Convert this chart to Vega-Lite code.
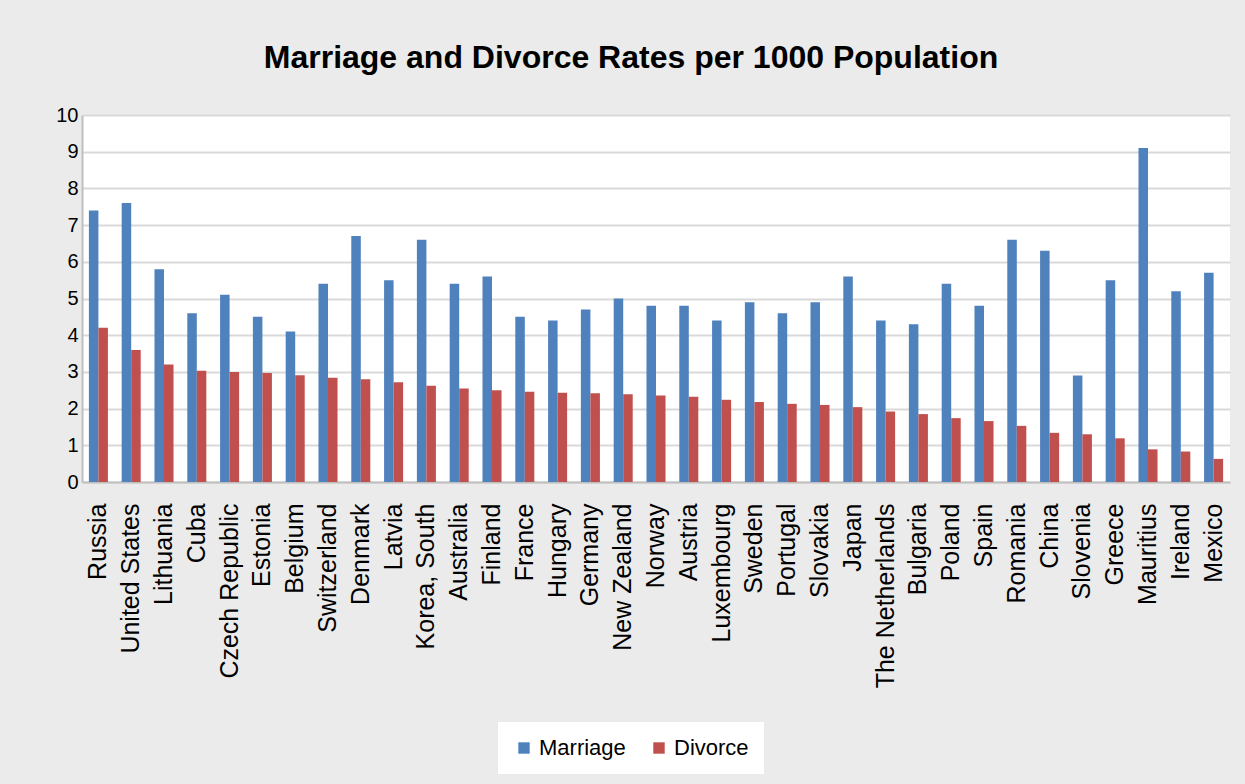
{
  "$schema": "https://vega.github.io/schema/vega-lite/v6.json",
  "width": 1148,
  "height": 367,
  "autosize": {"type": "none"},
  "padding": {"left": 82, "top": 115, "right": 15, "bottom": 302},
  "background": "#ebebeb",
  "title": {
    "text": "Marriage and Divorce Rates per 1000 Population",
    "font": "Liberation Sans",
    "fontSize": 32,
    "fontWeight": "bold",
    "color": "#000000",
    "anchor": "middle",
    "dx": -25,
    "offset": 30
  },
  "config": {
    "view": {"fill": "white", "stroke": null},
    "font": "Liberation Sans"
  },
  "data": {
    "values": [
      {"country": "Russia", "series": "Marriage", "rate": 7.4},
      {"country": "Russia", "series": "Divorce", "rate": 4.2},
      {"country": "United States", "series": "Marriage", "rate": 7.6},
      {"country": "United States", "series": "Divorce", "rate": 3.6},
      {"country": "Lithuania", "series": "Marriage", "rate": 5.8},
      {"country": "Lithuania", "series": "Divorce", "rate": 3.2},
      {"country": "Cuba", "series": "Marriage", "rate": 4.6},
      {"country": "Cuba", "series": "Divorce", "rate": 3.03},
      {"country": "Czech Republic", "series": "Marriage", "rate": 5.1},
      {"country": "Czech Republic", "series": "Divorce", "rate": 3.0},
      {"country": "Estonia", "series": "Marriage", "rate": 4.5},
      {"country": "Estonia", "series": "Divorce", "rate": 2.97},
      {"country": "Belgium", "series": "Marriage", "rate": 4.1},
      {"country": "Belgium", "series": "Divorce", "rate": 2.91},
      {"country": "Switzerland", "series": "Marriage", "rate": 5.4},
      {"country": "Switzerland", "series": "Divorce", "rate": 2.84},
      {"country": "Denmark", "series": "Marriage", "rate": 6.7},
      {"country": "Denmark", "series": "Divorce", "rate": 2.8},
      {"country": "Latvia", "series": "Marriage", "rate": 5.5},
      {"country": "Latvia", "series": "Divorce", "rate": 2.72},
      {"country": "Korea, South", "series": "Marriage", "rate": 6.6},
      {"country": "Korea, South", "series": "Divorce", "rate": 2.62},
      {"country": "Australia", "series": "Marriage", "rate": 5.4},
      {"country": "Australia", "series": "Divorce", "rate": 2.55},
      {"country": "Finland", "series": "Marriage", "rate": 5.6},
      {"country": "Finland", "series": "Divorce", "rate": 2.5},
      {"country": "France", "series": "Marriage", "rate": 4.5},
      {"country": "France", "series": "Divorce", "rate": 2.46},
      {"country": "Hungary", "series": "Marriage", "rate": 4.4},
      {"country": "Hungary", "series": "Divorce", "rate": 2.43},
      {"country": "Germany", "series": "Marriage", "rate": 4.7},
      {"country": "Germany", "series": "Divorce", "rate": 2.42},
      {"country": "New Zealand", "series": "Marriage", "rate": 5.0},
      {"country": "New Zealand", "series": "Divorce", "rate": 2.39},
      {"country": "Norway", "series": "Marriage", "rate": 4.8},
      {"country": "Norway", "series": "Divorce", "rate": 2.36},
      {"country": "Austria", "series": "Marriage", "rate": 4.8},
      {"country": "Austria", "series": "Divorce", "rate": 2.32},
      {"country": "Luxembourg", "series": "Marriage", "rate": 4.4},
      {"country": "Luxembourg", "series": "Divorce", "rate": 2.24},
      {"country": "Sweden", "series": "Marriage", "rate": 4.9},
      {"country": "Sweden", "series": "Divorce", "rate": 2.18},
      {"country": "Portugal", "series": "Marriage", "rate": 4.6},
      {"country": "Portugal", "series": "Divorce", "rate": 2.13},
      {"country": "Slovakia", "series": "Marriage", "rate": 4.9},
      {"country": "Slovakia", "series": "Divorce", "rate": 2.1},
      {"country": "Japan", "series": "Marriage", "rate": 5.6},
      {"country": "Japan", "series": "Divorce", "rate": 2.04},
      {"country": "The Netherlands", "series": "Marriage", "rate": 4.4},
      {"country": "The Netherlands", "series": "Divorce", "rate": 1.92},
      {"country": "Bulgaria", "series": "Marriage", "rate": 4.3},
      {"country": "Bulgaria", "series": "Divorce", "rate": 1.85},
      {"country": "Poland", "series": "Marriage", "rate": 5.4},
      {"country": "Poland", "series": "Divorce", "rate": 1.74},
      {"country": "Spain", "series": "Marriage", "rate": 4.8},
      {"country": "Spain", "series": "Divorce", "rate": 1.66},
      {"country": "Romania", "series": "Marriage", "rate": 6.6},
      {"country": "Romania", "series": "Divorce", "rate": 1.53},
      {"country": "China", "series": "Marriage", "rate": 6.3},
      {"country": "China", "series": "Divorce", "rate": 1.34},
      {"country": "Slovenia", "series": "Marriage", "rate": 2.9},
      {"country": "Slovenia", "series": "Divorce", "rate": 1.3},
      {"country": "Greece", "series": "Marriage", "rate": 5.5},
      {"country": "Greece", "series": "Divorce", "rate": 1.19},
      {"country": "Mauritius", "series": "Marriage", "rate": 9.1},
      {"country": "Mauritius", "series": "Divorce", "rate": 0.89},
      {"country": "Ireland", "series": "Marriage", "rate": 5.2},
      {"country": "Ireland", "series": "Divorce", "rate": 0.83},
      {"country": "Mexico", "series": "Marriage", "rate": 5.7},
      {"country": "Mexico", "series": "Divorce", "rate": 0.63}
    ]
  },
  "mark": {"type": "bar"},
  "encoding": {
    "x": {
      "field": "country",
      "type": "nominal",
      "sort": null,
      "scale": {"paddingInner": 0.42, "paddingOuter": 0.21},
      "axis": {
        "title": null,
        "labelAngle": -90,
        "labelAlign": "right",
        "labelBaseline": "middle",
        "labelFontSize": 25,
        "labelLimit": 0,
        "labelColor": "#000000",
        "labelPadding": 21,
        "ticks": false,
        "domainColor": "#bfbfbf",
        "domainWidth": 2
      }
    },
    "xOffset": {
      "field": "series",
      "type": "nominal",
      "sort": ["Marriage", "Divorce"],
      "scale": {"paddingInner": 0}
    },
    "y": {
      "field": "rate",
      "type": "quantitative",
      "scale": {"domain": [0, 10], "nice": false},
      "axis": {
        "title": null,
        "values": [0, 1, 2, 3, 4, 5, 6, 7, 8, 9, 10],
        "labelFontSize": 20,
        "labelColor": "#000000",
        "labelPadding": 4,
        "ticks": false,
        "domainColor": "#bfbfbf",
        "domainWidth": 2,
        "gridColor": "#d9d9d9",
        "gridWidth": 2
      }
    },
    "color": {
      "field": "series",
      "type": "nominal",
      "sort": ["Marriage", "Divorce"],
      "scale": {"domain": ["Marriage", "Divorce"], "range": ["#4f81bd", "#c0504d"]},
      "legend": {
        "title": null,
        "orient": "none",
        "legendX": 416,
        "legendY": 607,
        "direction": "horizontal",
        "fillColor": "white",
        "padding": 15,
        "symbolType": "square",
        "symbolSize": 130,
        "symbolStrokeWidth": 0,
        "labelFontSize": 22,
        "labelFont": "Liberation Sans",
        "labelColor": "#000000",
        "columnPadding": 22,
        "labelOffset": 4
      }
    }
  }
}
